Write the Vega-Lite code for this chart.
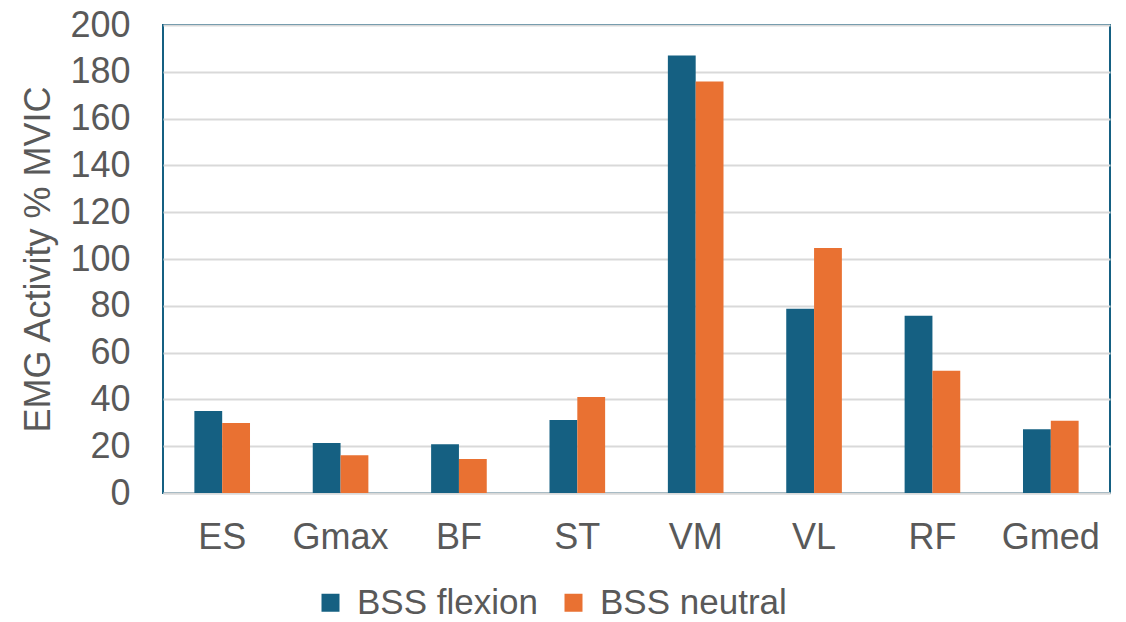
{
  "$schema": "https://vega.github.io/schema/vega-lite/v6.json",
  "autosize": {"type": "none"},
  "padding": {"left": 163, "top": 25, "right": 16, "bottom": 129},
  "width": 947,
  "height": 468,
  "background": "white",
  "config": {
    "font": "Liberation Sans",
    "view": {"stroke": "#156082", "strokeWidth": 2}
  },
  "data": {
    "values": [
      {"muscle": "ES", "series": "BSS flexion", "value": 35.0},
      {"muscle": "ES", "series": "BSS neutral", "value": 29.9},
      {"muscle": "Gmax", "series": "BSS flexion", "value": 21.4},
      {"muscle": "Gmax", "series": "BSS neutral", "value": 16.1},
      {"muscle": "BF", "series": "BSS flexion", "value": 20.8},
      {"muscle": "BF", "series": "BSS neutral", "value": 14.5},
      {"muscle": "ST", "series": "BSS flexion", "value": 31.2},
      {"muscle": "ST", "series": "BSS neutral", "value": 41.0},
      {"muscle": "VM", "series": "BSS flexion", "value": 187.0},
      {"muscle": "VM", "series": "BSS neutral", "value": 175.9},
      {"muscle": "VL", "series": "BSS flexion", "value": 78.7},
      {"muscle": "VL", "series": "BSS neutral", "value": 104.7},
      {"muscle": "RF", "series": "BSS flexion", "value": 75.7},
      {"muscle": "RF", "series": "BSS neutral", "value": 52.2},
      {"muscle": "Gmed", "series": "BSS flexion", "value": 27.2},
      {"muscle": "Gmed", "series": "BSS neutral", "value": 30.9}
    ]
  },
  "mark": {"type": "bar"},
  "encoding": {
    "x": {
      "field": "muscle",
      "type": "nominal",
      "sort": ["ES", "Gmax", "BF", "ST", "VM", "VL", "RF", "Gmed"],
      "scale": {"paddingInner": 0.53, "paddingOuter": 0.265},
      "axis": {
        "title": null,
        "labelAngle": 0,
        "labelFontSize": 36,
        "labelColor": "#595959",
        "labelPadding": 27,
        "ticks": false,
        "tickSize": 0,
        "domainColor": "#D9D9D9",
        "domainWidth": 2
      }
    },
    "xOffset": {
      "field": "series",
      "type": "nominal",
      "scale": {"paddingInner": 0, "paddingOuter": 0}
    },
    "y": {
      "field": "value",
      "type": "quantitative",
      "scale": {"domain": [0, 200], "nice": false},
      "axis": {
        "title": "EMG Activity % MVIC",
        "titleFontSize": 36,
        "titleFontWeight": "normal",
        "titleColor": "#595959",
        "titlePadding": 12,
        "values": [0, 20, 40, 60, 80, 100, 120, 140, 160, 180, 200],
        "labelFontSize": 36,
        "labelColor": "#595959",
        "labelPadding": 33,
        "ticks": false,
        "tickSize": 0,
        "domain": false,
        "gridColor": "#D9D9D9",
        "gridWidth": 2
      }
    },
    "color": {
      "field": "series",
      "type": "nominal",
      "scale": {"domain": ["BSS flexion", "BSS neutral"], "range": ["#156082", "#E97132"]},
      "legend": {
        "title": null,
        "orient": "none",
        "direction": "horizontal",
        "legendX": 150,
        "legendY": 560,
        "padding": 0,
        "symbolType": "square",
        "symbolSize": 324,
        "symbolStrokeWidth": 0,
        "labelFontSize": 35,
        "labelLimit": 500,
        "labelColor": "#595959",
        "labelOffset": 9,
        "columnPadding": 18
      }
    }
  }
}
